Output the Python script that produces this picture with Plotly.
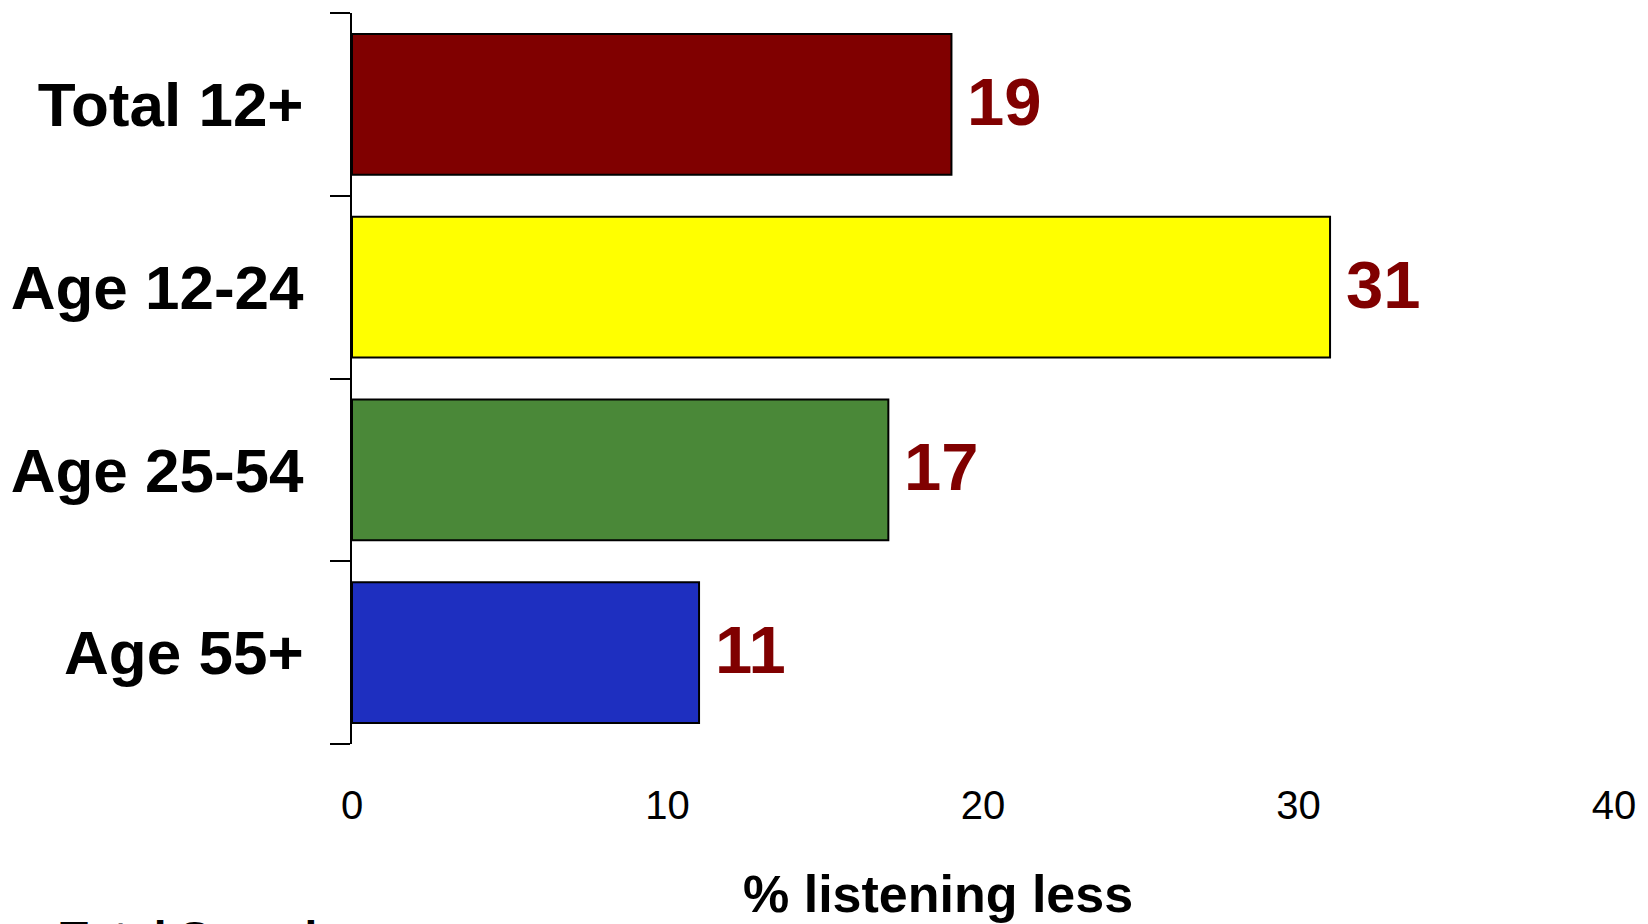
import plotly.graph_objects as go

categories = ["Total 12+", "Age 12-24", "Age 25-54", "Age 55+"]
values = [19, 31, 17, 11]
bar_colors = ["#800000", "#FFFF00", "#4A8838", "#1E2FC0"]
x_ticks = [0, 10, 20, 30, 40]
x_title = "% listening less"
footnote = "Total Sample"

FONT = "Liberation Sans, Arial, sans-serif"
W, H = 1648, 924
L, R, T, B = 352, 34, 13, 180
plot_w = W - L - R
plot_h = H - T - B

n = len(categories)
boundaries = [i - 0.5 for i in range(n + 1)]

fig = go.Figure()
fig.add_trace(go.Bar(
    x=values, y=categories, orientation="h",
    marker=dict(color=bar_colors, line=dict(color="black", width=2)),
    width=0.77, showlegend=False, hoverinfo="x+y",
))
# empty trace to anchor the boundary-tick axis
fig.add_trace(go.Scatter(x=[None], y=[None], yaxis="y2", showlegend=False,
                         hoverinfo="skip", mode="markers"))

annotations = []
for c, v in zip(categories, values):
    annotations.append(dict(
        x=v, y=c, xref="x", yref="y", text=str(v), showarrow=False,
        xanchor="left", yanchor="middle", xshift=14, yshift=3,
        font=dict(family=FONT, size=67, color="#800000", weight="bold"),
    ))

def px_to_paper_x(px):
    return (px - L) / plot_w

def px_to_paper_y(py):
    return (H - B - py) / plot_h

annotations.append(dict(
    x=px_to_paper_x(938), y=px_to_paper_y(894), xref="paper", yref="paper",
    text=x_title, showarrow=False, xanchor="center", yanchor="middle",
    font=dict(family=FONT, size=52, color="black", weight="bold"),
))
annotations.append(dict(
    x=px_to_paper_x(58), y=px_to_paper_y(938), xref="paper", yref="paper",
    text=footnote, showarrow=False, xanchor="left", yanchor="middle",
    font=dict(family=FONT, size=46, color="black", weight="bold"),
))

fig.update_layout(
    width=W, height=H,
    margin=dict(l=L, r=R, t=T, b=B, autoexpand=False),
    plot_bgcolor="white", paper_bgcolor="white",
    annotations=annotations,
    bargap=0.23,
    yaxis2=dict(
        overlaying="y", side="left", range=[n - 0.5, -0.5],
        tickvals=boundaries, showticklabels=False,
        showgrid=False, zeroline=False, showline=True, linecolor="black", linewidth=2,
        ticks="outside", ticklen=20, tickwidth=2, tickcolor="black",
    ),
)
fig.update_xaxes(
    range=[0, 40], tickvals=x_ticks, ticktext=[str(t) for t in x_ticks],
    showgrid=False, zeroline=False, showline=False, ticks="",
    tickfont=dict(family=FONT, size=40, color="black"),
    ticklabelstandoff=34,
)
fig.update_yaxes(
    selector=dict(overlaying=None),
    categoryorder="array", categoryarray=categories, range=[n - 0.5, -0.5],
    showgrid=False, zeroline=False, showline=True, linecolor="black", linewidth=2,
    ticks="",
    tickfont=dict(family=FONT, size=62, color="black", weight="bold"),
    ticklabelstandoff=34,
)

fig.write_html("out.html")
